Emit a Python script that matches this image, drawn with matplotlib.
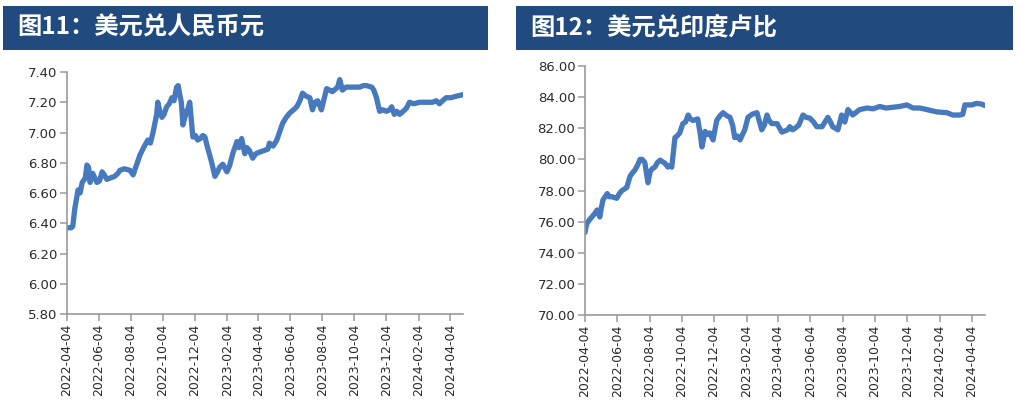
import matplotlib
matplotlib.use("Agg")
import matplotlib.pyplot as plt
import matplotlib.dates as mdates
from matplotlib.patches import Rectangle
from matplotlib.ticker import FormatStrFormatter
import pandas as pd

plt.rcParams['font.family'] = ['DejaVu Sans']

# ---------------- data ----------------
title_left = "图11：美元兑人民币元"
title_right = "图12：美元兑印度卢比"

tick_dates = ["2022-04-04", "2022-06-04", "2022-08-04", "2022-10-04", "2022-12-04",
              "2023-02-04", "2023-04-04", "2023-06-04", "2023-08-04", "2023-10-04",
              "2023-12-04", "2024-02-04", "2024-04-04"]

cny_dates = ["2022-04-04", "2022-04-12", "2022-04-15", "2022-04-19", "2022-04-25", "2022-04-29",
             "2022-05-03", "2022-05-09", "2022-05-12", "2022-05-15", "2022-05-18", "2022-05-23",
             "2022-05-27", "2022-05-31", "2022-06-05", "2022-06-10", "2022-06-14", "2022-06-19",
             "2022-06-26", "2022-07-04", "2022-07-10", "2022-07-14", "2022-07-22", "2022-08-02",
             "2022-08-08", "2022-08-14", "2022-08-21", "2022-08-28", "2022-09-05", "2022-09-10",
             "2022-09-15", "2022-09-22", "2022-09-24", "2022-09-28", "2022-10-02", "2022-10-06",
             "2022-10-11", "2022-10-16", "2022-10-21", "2022-10-25", "2022-10-30", "2022-11-02",
             "2022-11-05", "2022-11-08", "2022-11-11", "2022-11-14", "2022-11-18", "2022-11-21",
             "2022-11-24", "2022-11-30", "2022-12-05", "2022-12-09", "2022-12-14", "2022-12-19",
             "2022-12-23", "2022-12-28", "2023-01-05", "2023-01-11", "2023-01-16", "2023-01-20",
             "2023-01-26", "2023-02-03", "2023-02-08", "2023-02-14", "2023-02-22", "2023-02-26",
             "2023-03-03", "2023-03-09", "2023-03-13", "2023-03-18", "2023-03-24", "2023-03-30",
             "2023-04-06", "2023-04-14", "2023-04-22", "2023-04-25", "2023-05-02", "2023-05-09",
             "2023-05-20", "2023-05-27", "2023-06-03", "2023-06-10", "2023-06-16", "2023-06-22",
             "2023-06-27", "2023-07-04", "2023-07-11", "2023-07-16", "2023-07-21", "2023-07-26",
             "2023-08-02", "2023-08-07", "2023-08-12", "2023-08-18", "2023-08-23", "2023-09-02",
             "2023-09-06", "2023-09-11", "2023-09-18", "2023-09-25", "2023-10-05", "2023-10-14",
             "2023-10-21", "2023-10-27", "2023-11-06", "2023-11-10", "2023-11-15", "2023-11-21",
             "2023-11-27", "2023-12-04", "2023-12-10", "2023-12-14", "2023-12-19", "2023-12-24",
             "2023-12-29", "2024-01-05", "2024-01-11", "2024-01-17", "2024-01-25", "2024-02-05",
             "2024-02-15", "2024-03-01", "2024-03-08", "2024-03-14", "2024-03-20", "2024-03-27",
             "2024-04-05", "2024-04-15", "2024-04-22", "2024-04-27"]
cny_values = [6.37, 6.37, 6.38, 6.50, 6.62, 6.60,
              6.67, 6.70, 6.785, 6.77, 6.67, 6.73,
              6.70, 6.67, 6.68, 6.74, 6.72, 6.69,
              6.70, 6.71, 6.73, 6.75, 6.76, 6.75,
              6.72, 6.78, 6.85, 6.90, 6.95, 6.93,
              7.00, 7.12, 7.20, 7.14, 7.10, 7.12,
              7.17, 7.19, 7.23, 7.21, 7.30, 7.31,
              7.25, 7.20, 7.05, 7.09, 7.14, 7.16,
              7.20, 6.97, 6.98, 6.95, 6.96, 6.98,
              6.97, 6.90, 6.80, 6.71, 6.74, 6.77,
              6.79, 6.74, 6.78, 6.86, 6.94, 6.90,
              6.96, 6.86, 6.90, 6.88, 6.83, 6.86,
              6.87, 6.88, 6.89, 6.93, 6.91, 6.95,
              7.06, 7.10, 7.13, 7.15, 7.17, 7.21,
              7.26, 7.24, 7.23, 7.15, 7.20, 7.21,
              7.15, 7.22, 7.29, 7.28, 7.27, 7.30,
              7.35, 7.28, 7.30, 7.30, 7.30, 7.30,
              7.31, 7.31, 7.30, 7.28, 7.23, 7.14,
              7.15, 7.14, 7.15, 7.17, 7.12, 7.14,
              7.12, 7.14, 7.16, 7.20, 7.19, 7.20,
              7.20, 7.20, 7.21, 7.19, 7.21, 7.23,
              7.23, 7.24, 7.245, 7.25]

inr_dates = ["2022-04-04", "2022-04-06", "2022-04-08", "2022-04-12", "2022-04-17", "2022-04-22",
             "2022-04-27", "2022-05-02", "2022-05-05", "2022-05-08", "2022-05-16", "2022-05-20",
             "2022-05-25", "2022-06-03", "2022-06-08", "2022-06-13", "2022-06-18", "2022-06-22",
             "2022-06-28", "2022-07-02", "2022-07-07", "2022-07-12", "2022-07-17", "2022-07-21",
             "2022-07-26", "2022-08-01", "2022-08-05", "2022-08-09", "2022-08-14", "2022-08-19",
             "2022-08-24", "2022-09-02", "2022-09-08", "2022-09-12", "2022-09-15", "2022-09-21",
             "2022-09-25", "2022-09-30", "2022-10-06", "2022-10-11", "2022-10-16", "2022-10-20",
             "2022-10-25", "2022-11-03", "2022-11-08", "2022-11-11", "2022-11-17", "2022-11-22",
             "2022-11-26", "2022-12-02", "2022-12-09", "2022-12-15", "2022-12-21", "2022-12-28",
             "2023-01-03", "2023-01-08", "2023-01-12", "2023-01-17", "2023-01-22", "2023-01-31",
             "2023-02-06", "2023-02-14", "2023-02-23", "2023-03-04", "2023-03-09", "2023-03-14",
             "2023-03-18", "2023-03-23", "2023-04-02", "2023-04-11", "2023-04-22", "2023-04-26",
             "2023-05-01", "2023-05-06", "2023-05-13", "2023-05-21", "2023-05-27", "2023-06-03",
             "2023-06-10", "2023-06-16", "2023-06-26", "2023-07-07", "2023-07-12", "2023-07-16",
             "2023-07-26", "2023-08-02", "2023-08-08", "2023-08-14", "2023-08-23", "2023-09-05",
             "2023-09-19", "2023-10-01", "2023-10-13", "2023-10-25", "2023-11-07", "2023-11-20",
             "2023-12-03", "2023-12-15", "2023-12-28", "2024-01-10", "2024-01-29", "2024-02-17",
             "2024-02-28", "2024-03-12", "2024-03-18", "2024-03-22", "2024-04-04", "2024-04-13",
             "2024-04-23", "2024-04-29"]
inr_values = [75.3, 75.7, 75.9, 76.1, 76.3, 76.5,
              76.75, 76.3, 76.9, 77.4, 77.8, 77.6,
              77.6, 77.5, 77.8, 78.0, 78.1, 78.2,
              78.9, 79.1, 79.3, 79.6, 80.0, 80.0,
              79.8, 78.5, 79.2, 79.4, 79.5, 79.8,
              79.95, 79.75, 79.5, 79.6, 79.5, 81.4,
              81.5, 81.7, 82.3, 82.4, 82.85, 82.6,
              82.5, 82.6, 81.6, 80.8, 81.8, 81.6,
              81.7, 81.25, 82.5, 82.8, 83.0, 82.8,
              82.7, 82.2, 81.4, 81.5, 81.25, 81.9,
              82.7, 82.9, 83.0, 81.9, 82.2, 82.85,
              82.5, 82.3, 82.3, 81.75, 81.9, 82.1,
              81.9, 82.0, 82.2, 82.85, 82.7, 82.65,
              82.4, 82.1, 82.1, 82.7, 82.4, 82.1,
              81.9, 82.85, 82.4, 83.2, 82.85, 83.2,
              83.3, 83.25, 83.4, 83.3, 83.35, 83.4,
              83.5, 83.3, 83.3, 83.2, 83.05, 83.0,
              82.85, 82.85, 82.9, 83.5, 83.5, 83.6,
              83.55, 83.45]

cny_yticks = [5.80, 6.00, 6.20, 6.40, 6.60, 6.80, 7.00, 7.20, 7.40]
inr_yticks = [70, 72, 74, 76, 78, 80, 82, 84, 86]

# ---------------- styling ----------------
W, H = 1025, 419
BAR = "#214B7E"
LINE = "#4679BD"
AXC = "#9a9a9a"
TXT = "#2a2a2a"

fig = plt.figure(figsize=(W / 100, H / 100), dpi=100)


def fx(px):
    return px / W


def fy(py):
    return 1 - py / H


def panel(bar_x0, bar_x1, title, ax_box, dates, values, yticks, xend):
    # title bar
    fig.patches.append(Rectangle((fx(bar_x0), fy(50)), fx(bar_x1 - bar_x0), (50 - 6) / H,
                                 transform=fig.transFigure, facecolor=BAR,
                                 edgecolor="none", zorder=0))
    fig.text(fx(bar_x0 + 14), fy(28), title, color="white", fontsize=17.5,
             fontweight="bold", va="center", ha="left",
             family=["Noto Sans CJK SC", "DejaVu Sans"])
    x0, x1, y0, y1 = ax_box
    ax = fig.add_axes([fx(x0), fy(y1), fx(x1 - x0), (y1 - y0) / H])
    d = pd.to_datetime(dates)
    ax.plot(d, values, color=LINE, lw=3.8, solid_joinstyle="round",
            solid_capstyle="round")
    ax.set_ylim(yticks[0], yticks[-1])
    ax.set_yticks(yticks)
    ax.yaxis.set_major_formatter(FormatStrFormatter("%.2f"))
    ax.set_xlim(pd.Timestamp(tick_dates[0]), pd.Timestamp(xend))
    ax.set_xticks(pd.to_datetime(tick_dates))
    ax.xaxis.set_major_formatter(mdates.DateFormatter("%Y-%m-%d"))
    for lab in ax.get_xticklabels():
        lab.set_rotation(90)
    for s in ("top", "right"):
        ax.spines[s].set_visible(False)
    for s in ("left", "bottom"):
        ax.spines[s].set_color(AXC)
        ax.spines[s].set_linewidth(1.2)
    ax.tick_params(axis="both", colors=AXC, length=5, width=1.1, direction="out",
                   labelcolor=TXT)
    ax.tick_params(axis="y", labelsize=9.5, pad=2)
    ax.tick_params(axis="x", labelsize=9, pad=2)
    ax.set_facecolor("white")
    return ax


panel(3, 488, title_left, (67, 463, 72, 314), cny_dates, cny_values, cny_yticks,
      "2024-04-28")
panel(516, 1013, title_right, (585, 985, 66, 315), inr_dates, inr_values, inr_yticks,
      "2024-04-29")

fig.savefig("out.png", dpi=100, facecolor="white")
